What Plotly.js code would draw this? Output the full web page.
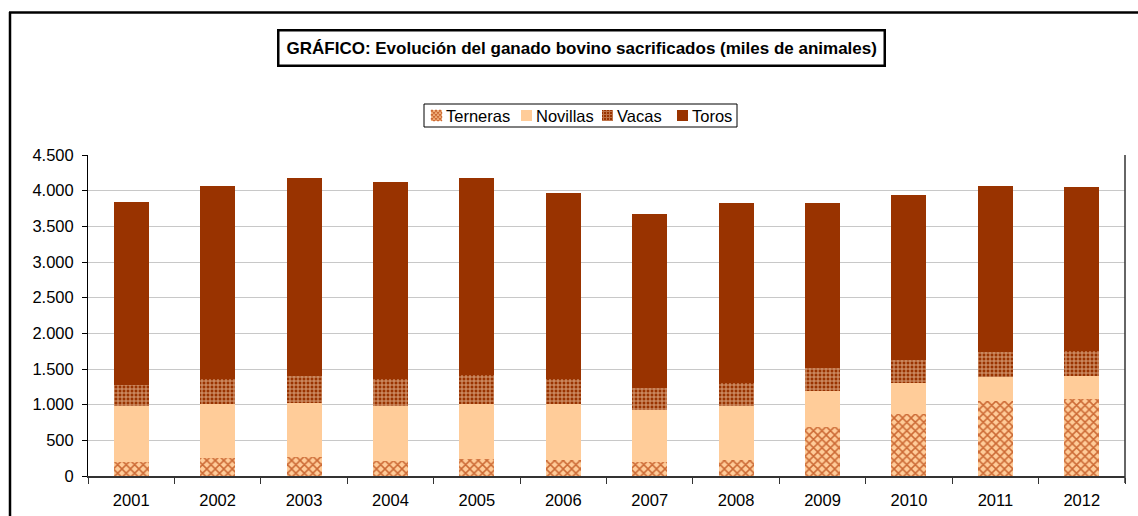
<!DOCTYPE html>
<html>
<head>
<meta charset="utf-8">
<script src="https://cdn.plot.ly/plotly-3.0.1.min.js"></script>
<style>html,body{margin:0;padding:0;background:#fff;}#chart{width:1138px;height:516px;}</style>
</head>
<body>
<div id="chart"></div>
<script>
// Data (miles de animales)
const years = ["2001","2002","2003","2004","2005","2006","2007","2008","2009","2010","2011","2012"];
const terneras = [192, 252, 271, 210, 243, 220, 196, 229, 691, 864, 1056, 1080];
const novillas = [789, 753, 752, 776, 762, 785, 734, 752, 500, 440, 332, 322];
const vacas    = [290, 355, 374, 379, 416, 350, 304, 323, 318, 317, 350, 350];
const toros    = [2566, 2701, 2776, 2752, 2752, 2608, 2434, 2519, 2314, 2314, 2323, 2295];
const seriesNames = ["Terneras", "Novillas", "Vacas", "Toros"];
const yTickVals = [0, 500, 1000, 1500, 2000, 2500, 3000, 3500, 4000, 4500];

const W = 1138, H = 516;
const M = {l: 88, r: 13, t: 155, b: 40};
const pw = W - M.l - M.r, ph = H - M.t - M.b;
const px = x => (x - M.l) / pw;
const py = y => (H - M.b - y) / ph;

const FONT = "Liberation Sans, Arial, sans-serif";

// Styles per series
const styles = [
  {color: "#ffcc99", pattern: {shape: "x", fgcolor: "#cc6a35", bgcolor: "#ffcc99", size: 6, solidity: 0.45}},
  {color: "#ffcc99"},
  {color: "#993300", pattern: {shape: "+", fgcolor: "#d9a07a", bgcolor: "#993300", size: 4, solidity: 0.45}},
  {color: "#993300"}
];
const values = [terneras, novillas, vacas, toros];

const traces = values.map((v, i) => ({
  type: "bar", name: seriesNames[i], x: years, y: v,
  marker: Object.assign({}, styles[i]), hoverinfo: "x+y+name"
}));

// Compact legend drawn with shapes + annotations
const legendBox = {x0: 424, x1: 737, y0: 104, y1: 127};
const legendItems = [431, 521, 602, 677];   // symbol left edges (px)
const S = 11, symTop = 110;

const shapes = [
  // outer chart frame (left and top edges visible)
  {type: "line", xref: "paper", yref: "paper", x0: px(10), x1: px(10), y0: py(12), y1: py(H + 5),
   line: {color: "#000", width: 2.5}},
  {type: "line", xref: "paper", yref: "paper", x0: px(9), x1: px(W + 5), y0: py(12.5), y1: py(12.5),
   line: {color: "#000", width: 2.5}},
  // right edge of the plot area
  {type: "line", xref: "paper", yref: "paper", x0: 1, x1: 1, y0: py(483), y1: 1,
   line: {color: "#333", width: 1.5}},
  // legend frame
  {type: "rect", xref: "paper", yref: "paper", x0: px(legendBox.x0), x1: px(legendBox.x1),
   y0: py(legendBox.y1), y1: py(legendBox.y0), line: {color: "#000", width: 1}, fillcolor: "#fff"}
];
const seg = (x, y, a, b, c, d) => `M${px(x + a)},${py(y + b)}L${px(x + c)},${py(y + d)}`;
function symbolShapes(i, x, y) {
  const out = [{type: "rect", xref: "paper", yref: "paper", x0: px(x), x1: px(x + S),
    y0: py(y + S), y1: py(y), line: {width: 0}, fillcolor: styles[i].pattern ? styles[i].pattern.bgcolor : styles[i].color}];
  if (!styles[i].pattern) return out;
  let p = "";
  if (styles[i].pattern.shape === "x") {
    for (let c = 2; c <= 20; c += 4) {          // "/" diagonals: u + v = c (v measured downward)
      p += seg(x, y, Math.max(0, c - S), Math.min(c, S), Math.min(c, S), Math.max(0, c - S));
    }
    for (let d = -8; d <= 8; d += 4) {          // "\" diagonals: u - v = d
      p += seg(x, y, Math.max(0, d), Math.max(0, -d), Math.min(S, S + d), Math.min(S, S - d));
    }
    out.push({type: "path", xref: "paper", yref: "paper", path: p,
      line: {color: styles[i].pattern.fgcolor, width: 1.2}});
  } else {
    for (let k = 1.5; k < S; k += 3) {
      p += seg(x, y, k, 0, k, S) + seg(x, y, 0, k, S, k);
    }
    out.push({type: "path", xref: "paper", yref: "paper", path: p, opacity: 0.6,
      line: {color: styles[i].pattern.fgcolor, width: 1}});
  }
  return out;
}

const annotations = [{
  text: "<b>GRÁFICO: Evolución del ganado bovino sacrificados (miles de animales)</b>",
  xref: "paper", yref: "paper", x: px(581), y: py(48), xanchor: "center", yanchor: "middle",
  showarrow: false, font: {family: FONT, size: 17, color: "#000"},
  bordercolor: "#000", borderwidth: 2.5, borderpad: 7, bgcolor: "#fff"
}];
seriesNames.forEach((name, i) => {
  const x = legendItems[i];
  symbolShapes(i, x, symTop).forEach(s => shapes.push(s));
  annotations.push({text: name, xref: "paper", yref: "paper", x: px(x + S + 2),
    y: py(symTop + S / 2 + 0.5), xanchor: "left", yanchor: "middle", showarrow: false,
    font: {family: FONT, size: 16.5, color: "#000"}});
});

const layout = {
  width: W, height: H,
  margin: M,
  paper_bgcolor: "#fff", plot_bgcolor: "#fff",
  separators: ",.",
  barmode: "stack",
  bargap: 0.595,
  font: {family: FONT, size: 16, color: "#000"},
  showlegend: false,
  xaxis: {
    type: "category", showgrid: false, showline: true, linecolor: "#333", linewidth: 2,
    ticks: "outside", tickson: "boundaries", ticklen: 6, tickcolor: "#333", tickwidth: 1,
    ticklabelstandoff: 8,
    tickfont: {family: FONT, size: 16.5, color: "#000"}, fixedrange: true
  },
  yaxis: {
    range: [0, 4500], tickvals: yTickVals, tickformat: ",d",
    showgrid: true, gridcolor: "#c8c8c8", gridwidth: 1,
    showline: true, linecolor: "#000", linewidth: 1,
    ticks: "outside", ticklen: 5, tickcolor: "#000", ticklabelstandoff: 5,
    zeroline: false,
    tickfont: {family: FONT, size: 16.5, color: "#000"}, fixedrange: true
  },
  shapes: shapes,
  annotations: annotations
};

Plotly.newPlot("chart", traces, layout, {displayModeBar: false, staticPlot: true});
</script>
</body>
</html>
